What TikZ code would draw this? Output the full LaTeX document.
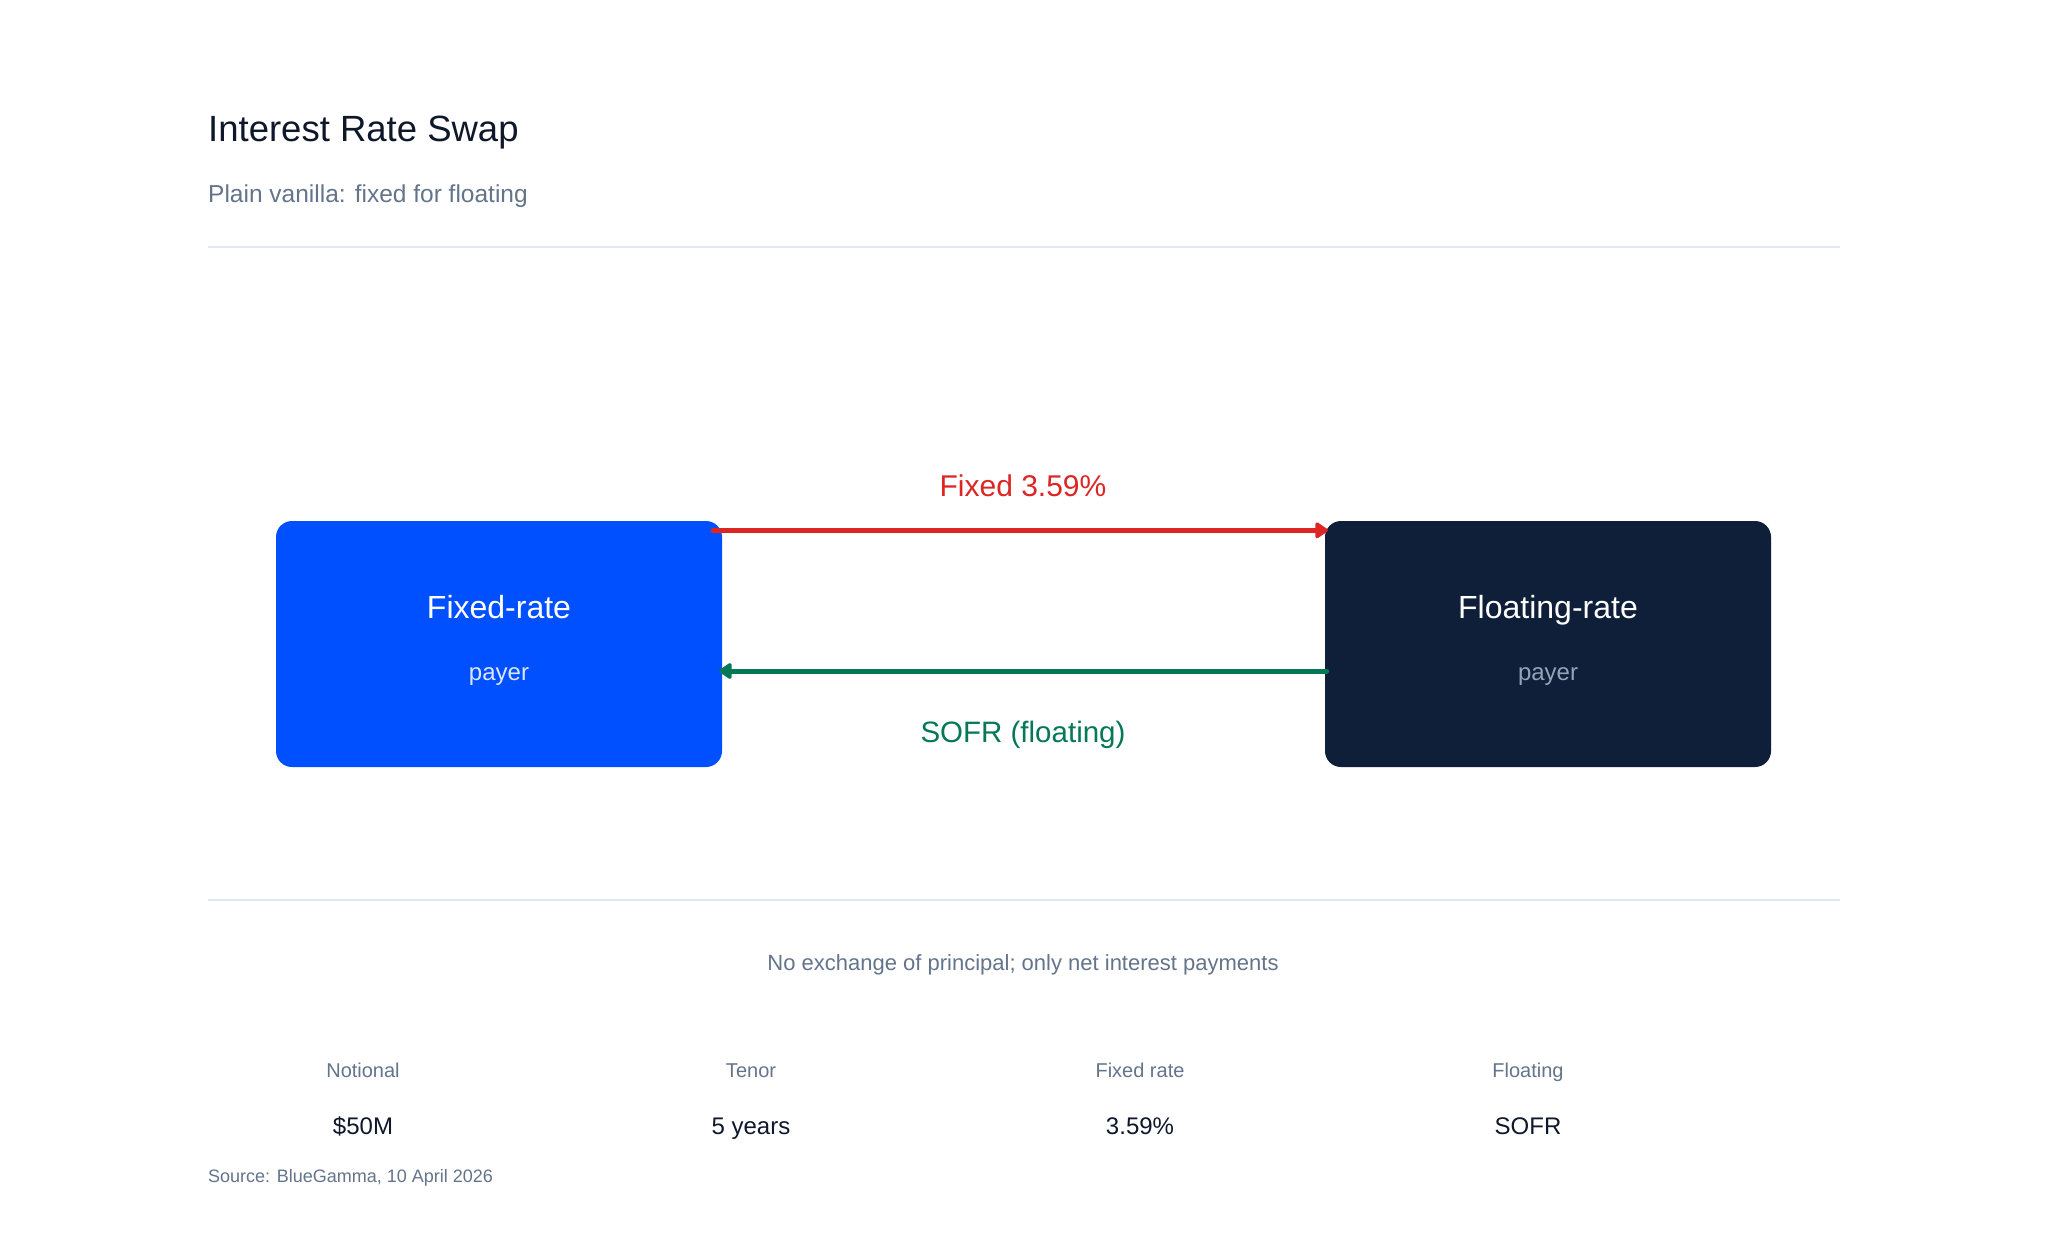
\documentclass[tikz,border=0pt]{standalone}
\usepackage{fontspec}
\setmainfont{Liberation Sans}
\usetikzlibrary{arrows.meta}
\definecolor{ink}{HTML}{0F172A}
\definecolor{muted}{HTML}{64748B}
\definecolor{rulec}{HTML}{E2E8F0}
\definecolor{bluebox}{HTML}{0050FF}
\definecolor{navybox}{HTML}{0F1F3A}
\definecolor{fixedred}{HTML}{DC2626}
\definecolor{floatgreen}{HTML}{047857}
\definecolor{paylight}{HTML}{DCE6FF}
\definecolor{paygray}{HTML}{94A3B8}
\tikzset{
  party/.style={rounded corners=16pt, minimum width=446pt, minimum height=246pt, inner sep=0pt, draw=none},
  txt/.style={anchor=base, inner sep=0pt},
  flow/.style={line width=5pt, line cap=round, -{Triangle[round,length=14pt,width=18pt]}},
  statlabel/.style={txt, text=muted, font=\fontsize{20}{24}\selectfont},
  statvalue/.style={txt, text=ink, font=\fontsize{24}{28}\selectfont},
}
\begin{document}
\begin{tikzpicture}[x=1pt,y=-1pt]
\useasboundingbox[fill=white] (0,0) rectangle (2048,1254);
% header
\node[txt, anchor=base west, text=ink, font=\fontsize{36.5}{42}\selectfont] (title) at (208,141) {Interest Rate Swap};
\node[txt, anchor=base west, text=muted, font=\fontsize{24.5}{28}\selectfont] (subtitle) at (208,202) {Plain vanilla: fixed for floating};
\coordinate (r1a) at (208,247);
\coordinate (r1b) at (1840,247);
\draw[rulec, line width=2pt] (r1a) -- (r1b);
% parties
\node[party, fill=bluebox] (L) at (499,644) {};
\node[party, fill=navybox] (R) at (1548,644) {};
\node[txt, text=white, font=\fontsize{32}{38}\selectfont] (Lt) at (499,618) {Fixed-rate};
\node[txt, text=paylight, font=\fontsize{24}{28}\selectfont] (Lp) at (499,680) {payer};
\node[txt, text=white, font=\fontsize{32}{38}\selectfont] (Rt) at (1548,618) {Floating-rate};
\node[txt, text=paygray, font=\fontsize{24}{28}\selectfont] (Rp) at (1548,680) {payer};
% flows
\draw[flow, fixedred] ([xshift=-9pt,yshift=-9.5pt]L.north east) -- ([xshift=3pt,yshift=-9.5pt]R.north west);
\draw[flow, floatgreen] ([xshift=2pt,yshift=-27pt]R.west) -- ([xshift=-3pt,yshift=-27pt]L.east);
\node[txt, text=fixedred, font=\fontsize{30}{36}\selectfont] (fixlbl) at (1023,496) {Fixed 3.59\%};
\node[txt, text=floatgreen, font=\fontsize{29.5}{36}\selectfont] (flolbl) at (1023,742) {SOFR (floating)};
% footer
\coordinate (r2a) at (208,900);
\coordinate (r2b) at (1840,900);
\draw[rulec, line width=2pt] (r2a) -- (r2b);
\node[txt, text=muted, font=\fontsize{22}{26}\selectfont] (note) at (1023,970) {No exchange of principal; only net interest payments};
\node[statlabel] (n1) at (363,1077) {Notional};
\node[statlabel] (n2) at (751,1077) {Tenor};
\node[statlabel] (n3) at (1140,1077) {Fixed rate};
\node[statlabel] (n4) at (1528,1077) {Floating};
\node[statvalue] (v1) at (363,1134) {\$50M};
\node[statvalue] (v2) at (751,1134) {5 years};
\node[statvalue] (v3) at (1140,1134) {3.59\%};
\node[statvalue] (v4) at (1528,1134) {SOFR};
\node[txt, anchor=base west, text=muted, font=\fontsize{18}{22}\selectfont] (source) at (208,1182) {Source: BlueGamma, 10 April 2026};
\end{tikzpicture}
\end{document}
